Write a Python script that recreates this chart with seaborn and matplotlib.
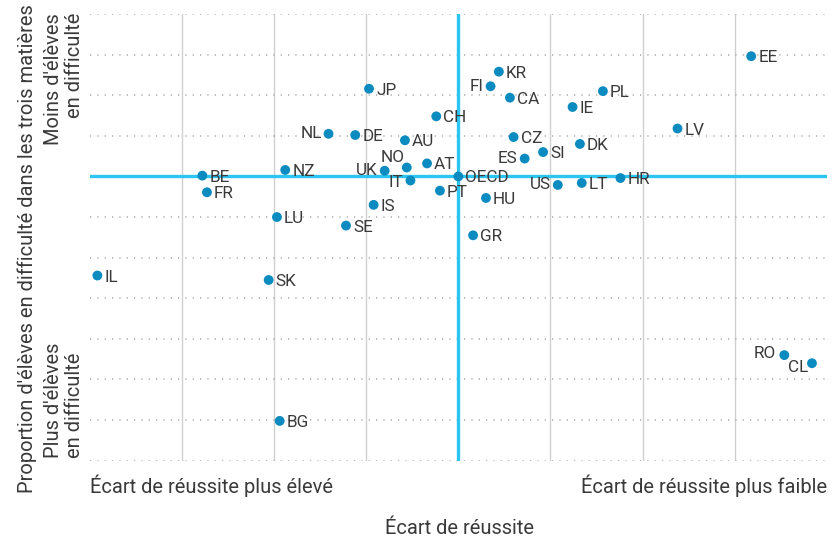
import matplotlib
matplotlib.use("Agg")
import matplotlib.pyplot as plt
import seaborn as sns
import pandas as pd
import numpy as np

# pays et position (écart de réussite, proportion d'élèves en difficulté)
pays = ["EE", "KR", "FI", "CA", "PL", "IE", "JP", "CH", "LV", "NL", "DE", "AU",
        "CZ", "DK", "SI", "ES", "AT", "NO", "UK", "NZ", "BE", "OECD", "HR",
        "IT", "LT", "US", "PT", "FR", "HU", "IS", "LU", "SE", "GR", "IL",
        "SK", "RO", "CL", "BG"]
ecart = [3.18, 0.44, 0.35, 0.56, 1.57, 1.24, -0.97, -0.24, 2.38, -1.41, -1.12, -0.58,
         0.60, 1.32, 0.92, 0.72, -0.34, -0.56, -0.80, -1.88, -2.78, 0.0, 1.76,
         -0.52, 1.34, 1.08, -0.20, -2.73, 0.30, -0.92, -1.97, -1.22, 0.16, -3.92,
         -2.06, 3.54, 3.84, -1.94]
difficulte = [2.96, 2.58, 2.22, 1.94, 2.10, 1.71, 2.16, 1.48, 1.18, 1.05, 1.02, 0.89,
              0.97, 0.80, 0.60, 0.44, 0.32, 0.22, 0.14, 0.16, 0.02, 0.0, -0.04,
              -0.10, -0.16, -0.21, -0.35, -0.39, -0.53, -0.70, -1.00, -1.21, -1.45, -2.44,
              -2.55, -4.40, -4.60, -6.02]
# pays dont l'étiquette est placée à gauche du point
gauche = ["NL", "FI", "NO", "UK", "IT", "ES", "US", "RO", "CL"]

xtick_pos = [-4, 4]
xtick_labels = ["Écart de réussite plus élevé", "Écart de réussite plus faible"]

df = pd.DataFrame({"pays": pays, "x": ecart, "y": difficulte})

sns.set_style("white")
plt.rcParams["font.family"] = ["Roboto", "DejaVu Sans"]
text_col = "#3a3a3a"
dot_col = "#0b8bc0"
cyan = "#2cc5f2"
big = 14.5

fig = plt.figure(figsize=(8.38, 5.39), dpi=100)
ax = fig.add_axes([90 / 838, 1 - 460.7 / 539, (826.7 - 90) / 838, (460.7 - 14) / 539])

ax.set_xlim(-4, 4)
ax.set_ylim(-7, 4)

# grille
ax.set_xticks(np.arange(-4, 5), minor=True)
ax.set_yticks(np.arange(-7, 5))
ax.grid(which="minor", axis="x", color="#d0d0d0", lw=1.0, ls="-")
ax.grid(which="major", axis="y", color="#a8a8a8", lw=1.1, ls=(0, (0.8, 4.0)))
ax.set_axisbelow(True)
for s in ax.spines.values():
    s.set_visible(False)

ax.axhline(0, color=cyan, lw=2.4, zorder=2)
ax.axvline(0, color=cyan, lw=2.4, zorder=2)

sns.scatterplot(data=df, x="x", y="y", color=dot_col, s=50, edgecolor="none",
                ax=ax, zorder=3, clip_on=False)

offsets = {"NO": (-2, 10, "right"), "CL": (-4, -4, "right"), "RO": (-8, 2, "right"),
           "IT": (-7, -2, "right")}
for _, r in df.iterrows():
    if r["pays"] in offsets:
        dx, dy, ha = offsets[r["pays"]]
    elif r["pays"] in gauche:
        dx, dy, ha = -7, 0, "right"
    else:
        dx, dy, ha = 7, -1.5, "left"
    ax.annotate(r["pays"], (r["x"], r["y"]), xytext=(dx, dy), textcoords="offset pixels",
                ha=ha, va="center", fontsize=12.3, color=text_col, zorder=4)

ax.set_yticklabels([])
ax.tick_params(axis="both", length=0)
ax.set_xticks(xtick_pos)
ax.set_xticklabels(xtick_labels, fontsize=big, color=text_col)
ax.tick_params(axis="x", pad=10)
for lab, ha in zip(ax.get_xticklabels(), ["left", "right"]):
    lab.set_ha(ha)
ax.set_xlabel("")
ax.set_ylabel("")

fig.text(459 / 838, 1 - 528 / 539, "Écart de réussite", ha="center", va="center",
         fontsize=big, color=text_col)
fig.text(27 / 838, 1 - 493 / 539, "Proportion d'élèves en difficulté dans les trois matières",
         rotation=90, ha="center", va="bottom", fontsize=big, color=text_col)
fig.text(64 / 838, 1 - 13 / 539, "Moins d'élèves\nen difficulté", rotation=90,
         ha="center", va="top", multialignment="right", fontsize=big, color=text_col,
         linespacing=1.1)
fig.text(64 / 838, 1 - 458 / 539, "Plus d'élèves\nen difficulté", rotation=90,
         ha="center", va="bottom", multialignment="left", fontsize=big, color=text_col,
         linespacing=1.1)

fig.savefig("out.png", dpi=100)
